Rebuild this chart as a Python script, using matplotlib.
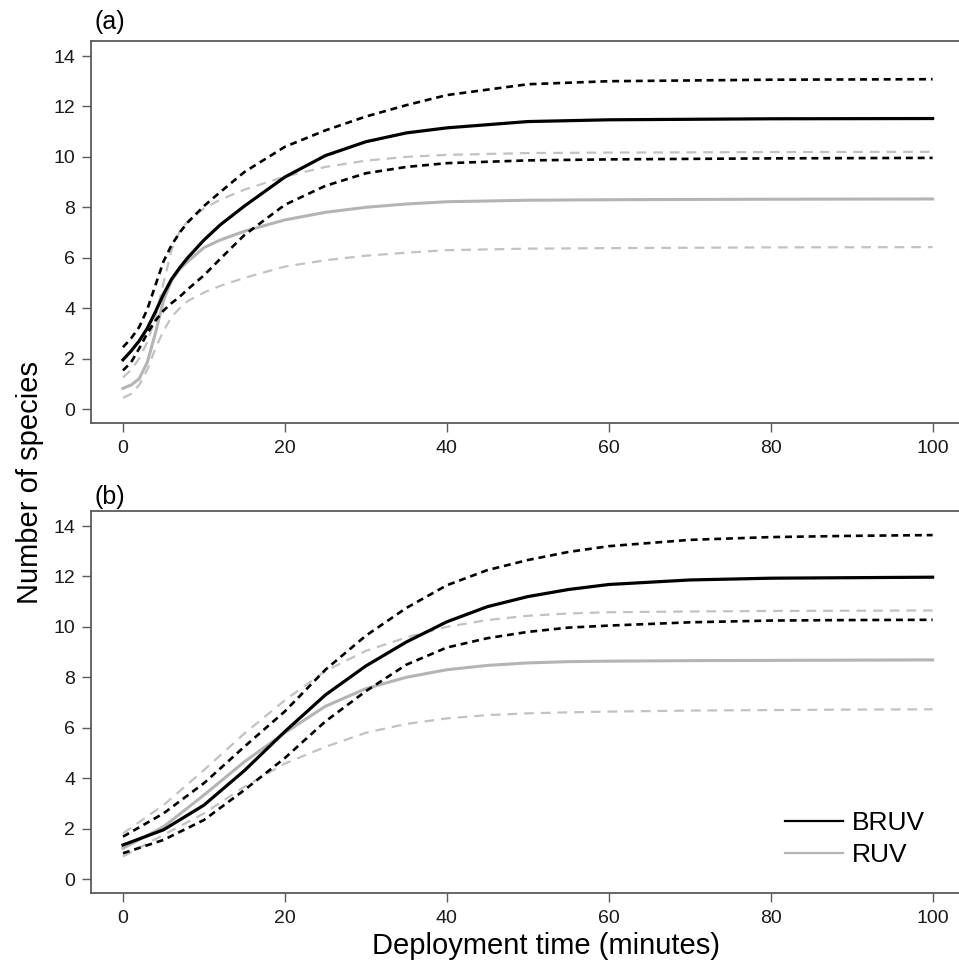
import matplotlib
matplotlib.use('Agg')
import matplotlib.pyplot as plt
from matplotlib.lines import Line2D

plt.rcParams['font.family'] = ['Liberation Sans', 'DejaVu Sans']
plt.rcParams['lines.scale_dashes'] = False

# panel (a) readings
xa = [0, 1, 2, 3, 4, 5, 6, 7, 8, 10, 12, 15, 20, 25, 30, 35, 40, 50, 60, 80, 100]
bruv_a = [1.95, 2.3, 2.7, 3.2, 3.85, 4.55, 5.15, 5.6, 6.0, 6.7, 7.3, 8.05, 9.2, 10.05, 10.6, 10.95, 11.15, 11.4, 11.47, 11.51, 11.52]
bruv_a_hi = [2.45, 2.8, 3.25, 3.95, 4.9, 5.85, 6.5, 7.0, 7.4, 8.05, 8.6, 9.4, 10.4, 11.05, 11.6, 12.05, 12.45, 12.88, 13.0, 13.06, 13.08]
bruv_a_lo = [1.53, 1.85, 2.4, 3.0, 3.5, 3.9, 4.2, 4.45, 4.75, 5.3, 5.95, 6.9, 8.1, 8.85, 9.35, 9.6, 9.75, 9.86, 9.9, 9.94, 9.96]
ruv_a = [0.82, 0.95, 1.2, 1.85, 3.0, 4.3, 5.1, 5.55, 5.85, 6.4, 6.7, 7.05, 7.5, 7.8, 8.0, 8.13, 8.22, 8.28, 8.3, 8.32, 8.33]
ruv_a_hi = [1.25, 1.55, 2.0, 2.65, 3.6, 5.0, 6.3, 7.05, 7.45, 7.95, 8.3, 8.7, 9.22, 9.6, 9.85, 10.0, 10.08, 10.15, 10.17, 10.19, 10.2]
ruv_a_lo = [0.44, 0.6, 0.95, 1.55, 2.4, 3.1, 3.65, 4.0, 4.28, 4.62, 4.88, 5.2, 5.65, 5.9, 6.08, 6.2, 6.3, 6.36, 6.38, 6.41, 6.42]

# panel (b) readings
xb = [0, 5, 10, 15, 20, 25, 30, 35, 40, 45, 50, 55, 60, 70, 80, 90, 100]
bruv_b = [1.35, 1.95, 2.93, 4.3, 5.85, 7.3, 8.45, 9.4, 10.2, 10.8, 11.2, 11.48, 11.68, 11.86, 11.93, 11.95, 11.97]
bruv_b_hi = [1.68, 2.6, 3.8, 5.25, 6.65, 8.3, 9.65, 10.75, 11.65, 12.25, 12.65, 12.97, 13.2, 13.45, 13.56, 13.61, 13.64]
bruv_b_lo = [1.02, 1.55, 2.34, 3.53, 4.8, 6.25, 7.45, 8.5, 9.18, 9.55, 9.8, 9.97, 10.05, 10.18, 10.25, 10.27, 10.28]
ruv_b = [1.22, 2.07, 3.33, 4.65, 5.8, 6.85, 7.55, 8.0, 8.3, 8.47, 8.57, 8.62, 8.64, 8.66, 8.67, 8.68, 8.69]
ruv_b_hi = [1.81, 2.93, 4.32, 5.77, 7.09, 8.25, 9.05, 9.58, 10.0, 10.27, 10.44, 10.53, 10.58, 10.61, 10.63, 10.64, 10.65]
ruv_b_lo = [0.89, 1.75, 2.6, 3.66, 4.58, 5.24, 5.8, 6.15, 6.37, 6.5, 6.57, 6.61, 6.64, 6.68, 6.7, 6.72, 6.73]

xticks = [0, 20, 40, 60, 80, 100]
yticks = [0, 2, 4, 6, 8, 10, 12, 14]

BLACK = '#000000'
GREY_SOLID = '#b4b4b4'
GREY_DASH = '#c2c2c2'
SPINE = '#5a5a5a'

W, H = 959, 973
fig = plt.figure(figsize=(W / 100, H / 100), dpi=100)


def make_axes(top, bottom):
    ax = fig.add_axes([91 / W, 1 - bottom / H, (965 - 91) / W, (bottom - top) / H])
    ax.set_xlim(-3.95, 104.0)
    ax.set_ylim(-0.555, 14.595)
    ax.set_xticks(xticks)
    ax.set_yticks(yticks)
    for s in ax.spines.values():
        s.set_color(SPINE)
        s.set_linewidth(1.3)
    ax.spines['right'].set_visible(False)
    ax.tick_params(direction='out', length=6.5, width=1.0, color=SPINE,
                   labelsize=14, labelcolor='#1a1a1a')
    ax.tick_params(axis='x', pad=6)
    ax.tick_params(axis='y', pad=5)
    return ax


def draw(ax, x, b, b_hi, b_lo, r, r_hi, r_lo):
    ax.plot(x, r_hi, color=GREY_DASH, lw=1.6, ls=(0, (7, 5)))
    ax.plot(x, r_lo, color=GREY_DASH, lw=1.6, ls=(0, (7, 5)))
    ax.plot(x, r, color=GREY_SOLID, lw=2.2)
    ax.plot(x, b_hi, color=BLACK, lw=1.9, ls=(0, (5, 3.5)))
    ax.plot(x, b_lo, color=BLACK, lw=1.9, ls=(0, (5, 3.5)))
    ax.plot(x, b, color=BLACK, lw=2.3)


ax_a = make_axes(41, 423)
draw(ax_a, xa, bruv_a, bruv_a_hi, bruv_a_lo, ruv_a, ruv_a_hi, ruv_a_lo)

ax_b = make_axes(511, 893)
draw(ax_b, xb, bruv_b, bruv_b_hi, bruv_b_lo, ruv_b, ruv_b_hi, ruv_b_lo)

handles = [Line2D([], [], color=BLACK, lw=1.6),
           Line2D([], [], color=GREY_SOLID, lw=1.6)]
ax_b.legend(handles, ['BRUV', 'RUV'], loc='upper left',
            bbox_to_anchor=(785 / W, 1 - 811 / H), bbox_transform=fig.transFigure,
            frameon=False, fontsize=19, handlelength=2.2, handletextpad=0.35,
            labelspacing=0.3, borderpad=0, borderaxespad=0)

fig.text(94 / W, 1 - 22 / H, '(a)', fontsize=18, va='center', ha='left')
fig.text(94 / W, 1 - 497 / H, '(b)', fontsize=18, va='center', ha='left')
fig.text(30 / W, 1 - 482 / H, 'Number of species', rotation=90, fontsize=21,
         ha='center', va='center')
fig.text(546 / W, 1 - 946 / H, 'Deployment time (minutes)', fontsize=21,
         ha='center', va='center')

fig.savefig('out.png', dpi=100)
